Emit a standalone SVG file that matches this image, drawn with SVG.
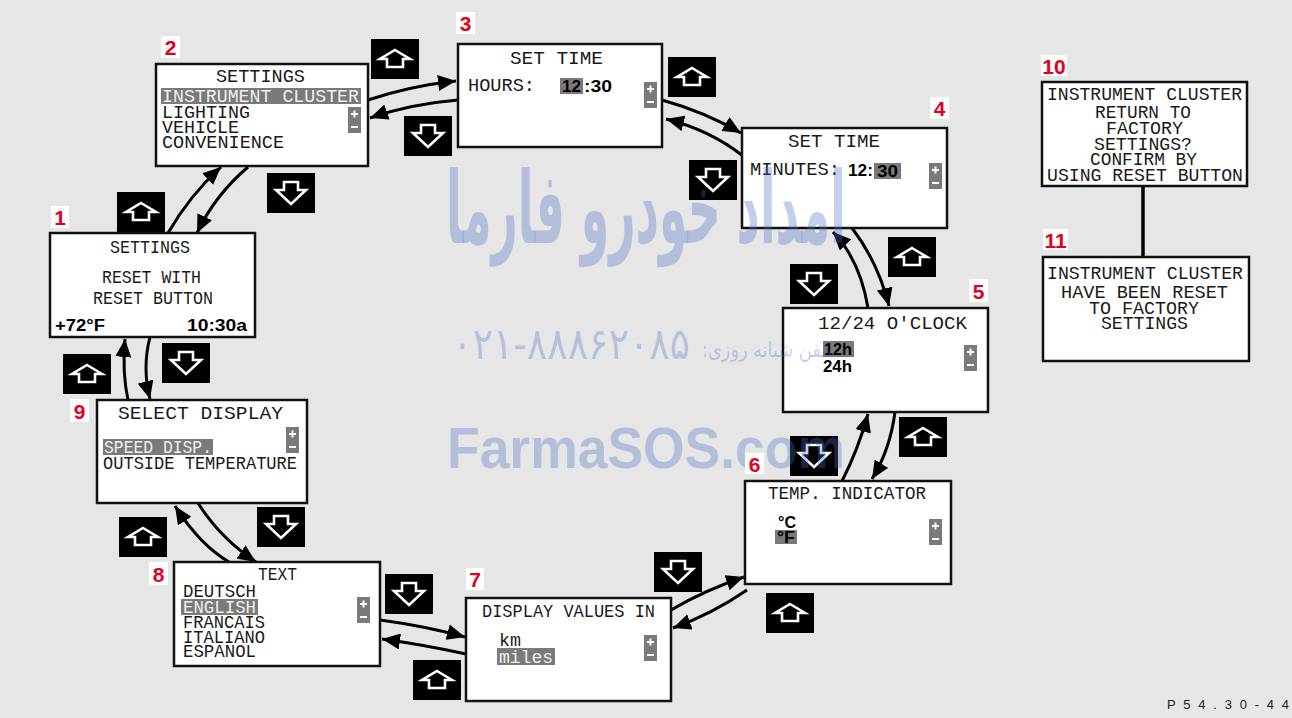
<svg xmlns="http://www.w3.org/2000/svg" width="1292" height="718" viewBox="0 0 1292 718">
<style>
.bg{fill:#e6e6e6}
.box{fill:#fff;stroke:#111;stroke-width:2.5}
.lcd{font-family:"Liberation Mono","DejaVu Sans Mono",monospace;font-size:18px;fill:#1a1a1a}
.lt{fill:#efefef}
.bd{font-family:"Liberation Sans",Arial,sans-serif;font-weight:bold;font-size:16px;fill:#000}
.hl{fill:#7a7a7a}
.btn{fill:#000}
.ico{fill:none;stroke:#fff;stroke-width:2.6;stroke-linejoin:miter}
.conn{fill:none;stroke:#000;stroke-width:3;marker-end:url(#ah)}
.lblb{fill:#fff}
.lbl{font-family:"Liberation Sans",Arial,sans-serif;font-weight:bold;font-size:21px;fill:#e3001b;text-anchor:middle}
.wm{fill:#4b6ec4;fill-opacity:0.33}
.code{font-family:"Liberation Sans",Arial,sans-serif;font-size:13px;fill:#222}
</style>
<defs>
<marker id="ah" markerUnits="userSpaceOnUse" markerWidth="20" markerHeight="16" refX="18" refY="8" orient="auto"><path d="M0,0 L18,8 L0,16 Z" fill="#000"/></marker>
<symbol id="up" viewBox="0 0 48 40" width="48" height="40"><rect class="btn" width="48" height="40"/><path class="ico" d="M24,11 L39,20 L32,20 L32,28 L16,28 L16,20 L9,20 Z"/></symbol>
<symbol id="dn" viewBox="0 0 48 40" width="48" height="40"><rect class="btn" width="48" height="40"/><path class="ico" d="M17,9 L31,9 L31,17 L39,17 L24,31 L9,17 L17,17 Z"/></symbol>
<symbol id="pm" viewBox="0 0 13 26" width="13" height="26"><rect class="hl" width="13" height="26"/><path d="M3,7 H10 M6.5,3.5 V10.5 M3,20 H10" stroke="#fff" stroke-width="2" fill="none"/></symbol>
</defs>
<rect class="bg" x="0" y="0" width="1292" height="718"/>

<g id="connectors">
<path class="conn" d="M368,100 Q410,86 456,81"/>
<path class="conn" d="M458,100 Q410,104 370,118"/>
<path class="conn" d="M662,100 Q705,112 741,133"/>
<path class="conn" d="M743,156 Q710,130 666,119"/>
<path class="conn" d="M852,228 Q878,262 889,306"/>
<path class="conn" d="M868,308 Q860,260 833,232"/>
<path class="conn" d="M895,412 Q890,450 872,479"/>
<path class="conn" d="M842,481 Q858,450 868,414"/>
<path class="conn" d="M671,610 Q705,590 744,577"/>
<path class="conn" d="M747,590 Q712,614 673,628"/>
<path class="conn" d="M380,620 Q425,626 465,637"/>
<path class="conn" d="M466,654 Q425,645 382,639"/>
<path class="conn" d="M198,503 Q220,538 256,562"/>
<path class="conn" d="M229,562 Q200,545 175,506"/>
<path class="conn" d="M150,337 Q142,368 150,399"/>
<path class="conn" d="M128,400 Q122,372 125,339"/>
<path class="conn" d="M168,233 Q190,195 221,167"/>
<path class="conn" d="M248,167 Q215,195 197,233"/>
<line x1="1143" y1="186" x2="1143" y2="258" stroke="#000" stroke-width="3.5"/>
</g>

<g id="buttons">
<use href="#up" x="371" y="39"/>
<use href="#up" x="668" y="57"/>
<use href="#up" x="117" y="192"/>
<use href="#up" x="888" y="237"/>
<use href="#up" x="899" y="417"/>
<use href="#up" x="63" y="354"/>
<use href="#up" x="119" y="517"/>
<use href="#up" x="413" y="660"/>
<use href="#up" x="766" y="593"/>
<use href="#dn" x="404" y="116"/>
<use href="#dn" x="267" y="173"/>
<use href="#dn" x="689" y="160"/>
<use href="#dn" x="790" y="264"/>
<use href="#dn" x="162" y="343"/>
<use href="#dn" x="257" y="507"/>
<use href="#dn" x="385" y="574"/>
<use href="#dn" x="654" y="552"/>
<use href="#dn" x="790" y="436"/>
</g>

<g id="node1">
<rect class="box" x="50" y="233" width="205" height="104"/>
<text class="lcd" x="110" y="253" textLength="80" lengthAdjust="spacingAndGlyphs">SETTINGS</text>
<text class="lcd" x="102" y="283" textLength="99" lengthAdjust="spacingAndGlyphs">RESET WITH</text>
<text class="lcd" x="93" y="304" textLength="120" lengthAdjust="spacingAndGlyphs">RESET BUTTON</text>
<text class="bd" x="55" y="331" textLength="50" lengthAdjust="spacingAndGlyphs">+72°F</text>
<text class="bd" x="187" y="331" textLength="60" lengthAdjust="spacingAndGlyphs">10:30a</text>
</g>

<g id="node2">
<rect class="box" x="156" y="64" width="212" height="102"/>
<text class="lcd" x="216" y="82" textLength="89" lengthAdjust="spacingAndGlyphs">SETTINGS</text>
<rect class="hl" x="161" y="88" width="200" height="16"/>
<text class="lcd lt" x="162" y="102" textLength="197" lengthAdjust="spacingAndGlyphs">INSTRUMENT CLUSTER</text>
<text class="lcd" x="162" y="118" textLength="88" lengthAdjust="spacingAndGlyphs">LIGHTING</text>
<text class="lcd" x="162" y="133" textLength="77" lengthAdjust="spacingAndGlyphs">VEHICLE</text>
<text class="lcd" x="162" y="148" textLength="122" lengthAdjust="spacingAndGlyphs">CONVENIENCE</text>
<use href="#pm" x="348" y="107"/>
</g>

<g id="node3">
<rect class="box" x="458" y="44" width="204" height="103"/>
<text class="lcd" x="510" y="64" textLength="93" lengthAdjust="spacingAndGlyphs">SET TIME</text>
<text class="lcd" x="468" y="91" textLength="67" lengthAdjust="spacingAndGlyphs">HOURS:</text>
<rect class="hl" x="560" y="78" width="23" height="16"/>
<text class="bd lt" x="562" y="92" textLength="19" lengthAdjust="spacingAndGlyphs">12</text>
<text class="bd" x="584" y="92" textLength="28" lengthAdjust="spacingAndGlyphs">:30</text>
<use href="#pm" x="644" y="82"/>
</g>

<g id="node4">
<rect class="box" x="742" y="128" width="205" height="100"/>
<text class="lcd" x="788" y="147" textLength="92" lengthAdjust="spacingAndGlyphs">SET TIME</text>
<text class="lcd" x="750" y="175" textLength="90" lengthAdjust="spacingAndGlyphs">MINUTES:</text>
<text class="bd" x="848" y="176" textLength="25" lengthAdjust="spacingAndGlyphs">12:</text>
<rect class="hl" x="874" y="163" width="27" height="16"/>
<text class="bd lt" x="877" y="177" textLength="21" lengthAdjust="spacingAndGlyphs">30</text>
<use href="#pm" x="929" y="163"/>
</g>

<g id="node5">
<rect class="box" x="783" y="308" width="205" height="104"/>
<text class="lcd" x="818" y="329" textLength="149" lengthAdjust="spacingAndGlyphs">12/24 O'CLOCK</text>
<rect class="hl" x="823" y="341" width="31" height="16"/>
<text class="bd lt" x="824" y="355" textLength="28" lengthAdjust="spacingAndGlyphs">12h</text>
<text class="bd" x="823" y="372" textLength="29" lengthAdjust="spacingAndGlyphs">24h</text>
<use href="#pm" x="964" y="345"/>
</g>

<g id="node6">
<rect class="box" x="745" y="481" width="206" height="103"/>
<text class="lcd" x="768" y="499" textLength="158" lengthAdjust="spacingAndGlyphs">TEMP. INDICATOR</text>
<text class="bd" x="778" y="528" textLength="18" lengthAdjust="spacingAndGlyphs">°C</text>
<rect class="hl" x="775" y="530" width="22" height="14"/>
<text class="bd lt" x="777" y="543" textLength="18" lengthAdjust="spacingAndGlyphs">°F</text>
<use href="#pm" x="929" y="519"/>
</g>

<g id="node7">
<rect class="box" x="466" y="598" width="205" height="103"/>
<text class="lcd" x="482" y="617" textLength="173" lengthAdjust="spacingAndGlyphs">DISPLAY VALUES IN</text>
<text class="lcd" x="499" y="646" textLength="22" lengthAdjust="spacingAndGlyphs">km</text>
<rect class="hl" x="497" y="648" width="58" height="17"/>
<text class="lcd lt" x="499" y="663" textLength="54" lengthAdjust="spacingAndGlyphs">miles</text>
<use href="#pm" x="644" y="635"/>
</g>

<g id="node8">
<rect class="box" x="174" y="562" width="206" height="104"/>
<text class="lcd" x="258" y="580" textLength="39" lengthAdjust="spacingAndGlyphs">TEXT</text>
<text class="lcd" x="183" y="597" textLength="73" lengthAdjust="spacingAndGlyphs">DEUTSCH</text>
<rect class="hl" x="181" y="599" width="77" height="16"/>
<text class="lcd lt" x="183" y="613" textLength="73" lengthAdjust="spacingAndGlyphs">ENGLISH</text>
<text class="lcd" x="183" y="628" textLength="82" lengthAdjust="spacingAndGlyphs">FRANCAIS</text>
<text class="lcd" x="183" y="643" textLength="82" lengthAdjust="spacingAndGlyphs">ITALIANO</text>
<text class="lcd" x="183" y="657" textLength="73" lengthAdjust="spacingAndGlyphs">ESPANOL</text>
<use href="#pm" x="357" y="597"/>
</g>

<g id="node9">
<rect class="box" x="97" y="400" width="210" height="103"/>
<text class="lcd" x="118" y="419" textLength="165" lengthAdjust="spacingAndGlyphs">SELECT DISPLAY</text>
<rect class="hl" x="103" y="439" width="110" height="16"/>
<text class="lcd lt" x="104" y="453" textLength="108" lengthAdjust="spacingAndGlyphs">SPEED DISP.</text>
<text class="lcd" x="103" y="469" textLength="194" lengthAdjust="spacingAndGlyphs">OUTSIDE TEMPERATURE</text>
<use href="#pm" x="286" y="427"/>
</g>

<g id="node10">
<rect class="box" x="1042" y="82" width="205" height="104"/>
<text class="lcd" x="1047" y="100" textLength="195" lengthAdjust="spacingAndGlyphs">INSTRUMENT CLUSTER</text>
<text class="lcd" x="1095" y="118" textLength="96" lengthAdjust="spacingAndGlyphs">RETURN TO</text>
<text class="lcd" x="1106" y="134" textLength="77" lengthAdjust="spacingAndGlyphs">FACTORY</text>
<text class="lcd" x="1094" y="150" textLength="98" lengthAdjust="spacingAndGlyphs">SETTINGS?</text>
<text class="lcd" x="1090" y="165" textLength="107" lengthAdjust="spacingAndGlyphs">CONFIRM BY</text>
<text class="lcd" x="1047" y="181" textLength="196" lengthAdjust="spacingAndGlyphs">USING RESET BUTTON</text>
</g>

<g id="node11">
<rect class="box" x="1043" y="257" width="206" height="104"/>
<text class="lcd" x="1047" y="279" textLength="196" lengthAdjust="spacingAndGlyphs">INSTRUMENT CLUSTER</text>
<text class="lcd" x="1061" y="298" textLength="167" lengthAdjust="spacingAndGlyphs">HAVE BEEN RESET</text>
<text class="lcd" x="1089" y="314" textLength="110" lengthAdjust="spacingAndGlyphs">TO FACTORY</text>
<text class="lcd" x="1101" y="329" textLength="87" lengthAdjust="spacingAndGlyphs">SETTINGS</text>
</g>

<g id="watermark">
<text class="wm" x="646" y="243" text-anchor="middle" font-family="DejaVu Sans, sans-serif" font-weight="bold" font-size="100" textLength="400" lengthAdjust="spacingAndGlyphs">امداد خودرو فارما</text>
<text class="wm" x="452" y="359" font-family="DejaVu Sans, sans-serif" font-size="44" textLength="238" lengthAdjust="spacingAndGlyphs">۰۲۱-۸۸۸۶۲۰۸۵</text>
<text class="wm" x="832" y="357" font-family="DejaVu Sans, sans-serif" font-size="21" textLength="130" lengthAdjust="spacingAndGlyphs" direction="rtl" unicode-bidi="embed">تلفن شبانه روزی:</text>
<text class="wm" x="447" y="468" font-family="Liberation Sans, Arial, sans-serif" font-weight="bold" font-size="58" textLength="398" lengthAdjust="spacingAndGlyphs">FarmaSOS.com</text>
</g>

<g id="labels">
<rect class="lblb" x="51" y="206" width="18" height="22"/><text class="lbl" x="60" y="225">1</text>
<rect class="lblb" x="161" y="36" width="19" height="22"/><text class="lbl" x="170.5" y="55">2</text>
<rect class="lblb" x="456" y="12" width="19" height="22"/><text class="lbl" x="465.5" y="31">3</text>
<rect class="lblb" x="930" y="97" width="19" height="22"/><text class="lbl" x="939.5" y="116">4</text>
<rect class="lblb" x="969" y="279" width="19" height="23"/><text class="lbl" x="978.5" y="299">5</text>
<rect class="lblb" x="745" y="453" width="19" height="21"/><text class="lbl" x="754.5" y="472">6</text>
<rect class="lblb" x="466" y="568" width="18" height="22"/><text class="lbl" x="475" y="587">7</text>
<rect class="lblb" x="149" y="562" width="19" height="23"/><text class="lbl" x="158.5" y="582">8</text>
<rect class="lblb" x="70" y="399" width="19" height="23"/><text class="lbl" x="79.5" y="419">9</text>
<rect class="lblb" x="1041" y="55" width="26" height="21"/><text class="lbl" x="1054" y="74">10</text>
<rect class="lblb" x="1043" y="229" width="25" height="21"/><text class="lbl" x="1055.5" y="248">11</text>
</g>

<text class="code" x="1167" y="709" textLength="122" lengthAdjust="spacing">P 5 4 . 3 0 - 4 4</text>
</svg>
